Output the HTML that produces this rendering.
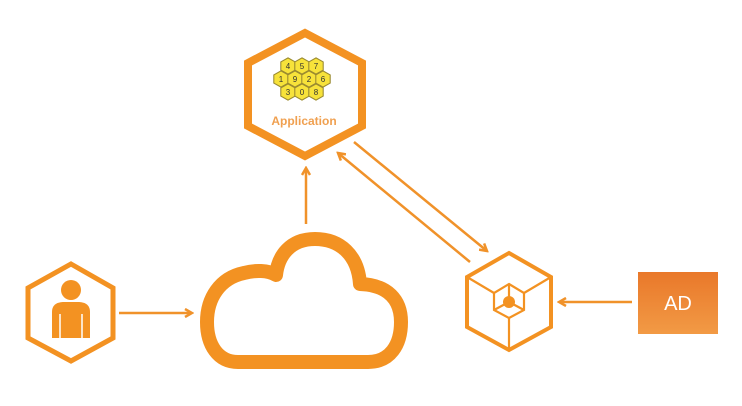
<!DOCTYPE html>
<html><head><style>html,body{margin:0;padding:0;background:#fff}svg{display:block}</style></head><body>
<svg width="742" height="406" viewBox="0 0 742 406" xmlns="http://www.w3.org/2000/svg">
<defs>
<marker id="ah" markerWidth="10" markerHeight="10" refX="8" refY="5" orient="auto" markerUnits="userSpaceOnUse">
<path d="M1,1 L8,5 L1,9" fill="none" stroke="#f0922a" stroke-width="2.5"/>
</marker>
<linearGradient id="g" x1="0" y1="0" x2="0" y2="1"><stop offset="0" stop-color="#e9782a"/><stop offset="1" stop-color="#f29a45"/></linearGradient>
<symbol id="hc" viewBox="-10 -10 20 20"><polygon points="0,-9 8,-4.5 8,4.5 0,9 -8,4.5 -8,-4.5" fill="#f7e23a" stroke="#9a8a30" stroke-width="1.2"/></symbol>
</defs>
<g fill="none" stroke="#f39222">
<polygon points="305,33 362,63 362,126 305,156 248,126 248,63" stroke-width="8"/>
<polygon points="71,264 113,288 113,338 71,361 28,338 28,288" stroke-width="5"/>
<path d="M238,362 L368,362 C390,362 401,345 401,322 C401,300 388,285 360,284 C358,255 340,239 315,239 C290,239 278,256 276,275 C268,270 255,270 244,273 C220,278 207,298 207,322 C207,345 218,362 238,362 Z" stroke-width="14" stroke-linejoin="round"/>
<polygon points="509,253 551,277 551,327 509,350 467,327 467,277" stroke-width="4"/>
<g stroke-width="2.2">
<polygon points="509,284 524,293 524,310 509,318 494,310 494,293"/>
<line x1="467" y1="277" x2="494" y2="293"/><line x1="551" y1="277" x2="524" y2="293"/><line x1="509" y1="318" x2="509" y2="350"/>
<line x1="509" y1="302" x2="509" y2="284"/><line x1="509" y1="302" x2="494" y2="310"/><line x1="509" y1="302" x2="524" y2="310"/>
</g>
</g>
<circle cx="509" cy="302" r="6" fill="#f39222"/>
<circle cx="71" cy="290" r="10" fill="#f39222"/>
<path d="M52,338 L52,312 C52,304 58,302 64,302 L78,302 C84,302 90,304 90,312 L90,338 Z" fill="#f39222"/>
<line x1="60" y1="314" x2="60" y2="338" stroke="#fff" stroke-width="1.5"/><line x1="82" y1="314" x2="82" y2="338" stroke="#fff" stroke-width="1.5"/>
<g stroke="#f0922a" stroke-width="2.5" fill="none" marker-end="url(#ah)">
<line x1="119" y1="313" x2="192" y2="313"/>
<line x1="306" y1="224" x2="306" y2="168"/>
<line x1="354" y1="142" x2="487" y2="251"/>
<line x1="470" y1="262" x2="338" y2="153"/>
<line x1="632" y1="302" x2="559" y2="302"/>
</g>
<rect x="638" y="272" width="80" height="62" fill="url(#g)"/>
<text x="678" y="310" text-anchor="middle" font-family="Liberation Sans, sans-serif" font-size="20" fill="#fff">AD</text>
<g font-family="Liberation Sans, sans-serif" font-size="8" text-anchor="middle" fill="#333">
<use href="#hc" x="279" y="57" width="18" height="18"/><use href="#hc" x="293" y="57" width="18" height="18"/><use href="#hc" x="307" y="57" width="18" height="18"/>
<use href="#hc" x="272" y="70" width="18" height="18"/><use href="#hc" x="286" y="70" width="18" height="18"/><use href="#hc" x="300" y="70" width="18" height="18"/><use href="#hc" x="314" y="70" width="18" height="18"/>
<use href="#hc" x="279" y="83" width="18" height="18"/><use href="#hc" x="293" y="83" width="18" height="18"/><use href="#hc" x="307" y="83" width="18" height="18"/>
<text x="288" y="69">4</text><text x="302" y="69">5</text><text x="316" y="69">7</text>
<text x="281" y="82">1</text><text x="295" y="82">9</text><text x="309" y="82">2</text><text x="323" y="82">6</text>
<text x="288" y="95">3</text><text x="302" y="95">0</text><text x="316" y="95">8</text>
</g>
<text x="304" y="125" text-anchor="middle" font-family="Liberation Sans, sans-serif" font-size="12" font-weight="bold" fill="#f0a050">Application</text>
</svg>
</body></html>
